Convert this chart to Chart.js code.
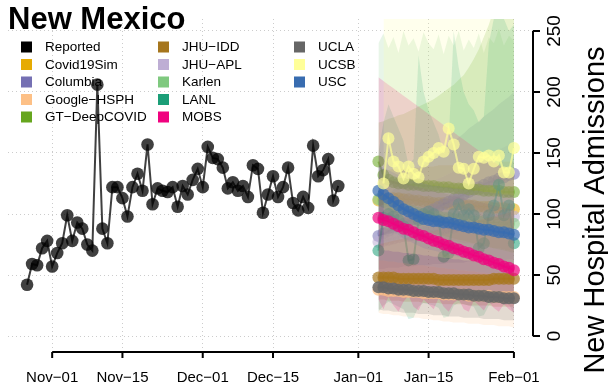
<!DOCTYPE html>
<html>
<head>
<meta charset="utf-8">
<script src="https://cdn.jsdelivr.net/npm/chart.js@4.4.0/dist/chart.umd.min.js"></script>
<style>
  html, body { margin: 0; padding: 0; background: #fff; }
</style>
</head>
<body>
<canvas id="myChart" width="608" height="388"></canvas>
<script>
// x values are days counted from Nov 1
const xTickDays = [0, 14, 30, 44, 61, 75, 92];
const xTickLabels = ['Nov\u221201', 'Nov\u221215', 'Dec\u221201', 'Dec\u221215', 'Jan\u221201', 'Jan\u221215', 'Feb\u221201'];
const yTicks = [0, 50, 100, 150, 200, 250];

const reportedStart = -5; // Oct 27
const reported = [42, 59, 58, 72, 78, 57, 68, 76, 99, 78, 93, 88, 75, 70, 206, 88, 76, 122, 122, 113,
  98, 122, 133, 119, 157, 108, 121, 119, 118, 122, 106, 123, 116, 128, 137, 122, 155, 146, 145, 138,
  121, 126, 119, 123, 114, 140, 137, 101, 116, 131, 114, 122, 138, 109, 103, 114, 105, 156, 131, 136,
  145, 111, 123];

const forecastStart = 65; // Jan 5
const ucsbStart = 66;

const modelNames = ['Covid19Sim', 'Columbia', 'Google\u2212HSPH', 'GT\u2212DeepCOVID', 'JHU\u2212IDD', 'JHU\u2212APL',
  'Karlen', 'LANL', 'MOBS', 'UCLA', 'UCSB', 'USC'];
const modelColors = ['#e6ab02', '#7570b3', '#fdc086', '#66a61e', '#a6761d', '#beaed4',
  '#7fc97f', '#1b9e77', '#f0027f', '#666666', '#ffff99', '#386cb0'];

const covidSim = [111, 112, 112, 113, 113, 112, 112, 111, 111, 110, 110, 109, 109, 109, 108, 108, 108, 107, 107, 107, 106, 106, 106, 105, 105, 105, 104, 104];
const covidSimLo = [88, 87, 86, 86, 85, 84, 84, 83, 82, 82, 81, 80, 80, 79, 78, 78, 77, 76, 76, 75, 74, 74, 73, 72, 72, 71, 70, 70];
const covidSimHi = [135, 136, 136, 137, 137, 137, 138, 138, 138, 139, 139, 139, 140, 140, 140, 140, 141, 141, 141, 141, 142, 142, 142, 142, 143, 143, 143, 143];

const columbia = [82, 84, 86, 88, 90, 92, 94, 96, 98, 100, 102, 104, 106, 108, 110, 112, 114, 116, 118, 120, 122, 124, 126, 127, 129, 130, 132, 133];
const columbiaLo = [55, 55, 56, 56, 56, 57, 57, 57, 58, 58, 58, 59, 59, 59, 60, 60, 60, 60, 61, 61, 61, 61, 62, 62, 62, 62, 63, 63];
const columbiaHi = [110, 113, 116, 120, 123, 126, 130, 133, 136, 140, 143, 146, 150, 153, 156, 160, 163, 166, 170, 173, 176, 180, 183, 186, 190, 193, 196, 200];

const google = [38, 38, 37, 37, 37, 36, 36, 36, 36, 35, 35, 35, 35, 34, 34, 34, 34, 34, 33, 33, 33, 33, 33, 32, 32, 32, 32, 32];
const googleLo = [19, 18, 18, 17, 17, 16, 16, 15, 15, 14, 14, 13, 13, 12, 12, 11, 11, 11, 10, 10, 10, 9, 9, 9, 8, 8, 8, 7];
const googleHi = [62, 62, 61, 61, 60, 60, 59, 59, 58, 58, 57, 57, 56, 56, 55, 55, 54, 54, 53, 53, 52, 52, 51, 51, 50, 50, 49, 49];

const gt = [143, 132, 128, 126, 125, 125, 124, 124, 124, 123, 123, 123, 122, 122, 122, 121, 121, 121, 120, 120, 120, 119, 119, 119, 119, 118, 118, 118];
const gtLo = [95, 94, 93, 92, 91, 90, 89, 88, 87, 86, 85, 84, 83, 82, 81, 80, 79, 78, 77, 76, 75, 74, 73, 72, 71, 70, 69, 68];
const gtHi = [175, 176, 178, 179, 181, 182, 184, 186, 188, 190, 192, 194, 197, 200, 203, 206, 210, 214, 220, 227, 235, 245, 255, 268, 280, 295, 310, 325];

const jhuIdd = [48, 48, 48, 48, 47, 47, 47, 47, 47, 47, 47, 47, 46, 46, 46, 46, 46, 46, 46, 46, 46, 46, 46, 47, 47, 47, 47, 47];
const jhuIddLo = [30, 30, 29, 29, 29, 28, 28, 28, 28, 27, 27, 27, 27, 26, 26, 26, 26, 26, 25, 25, 25, 25, 25, 24, 24, 24, 24, 24];
const jhuIddHi = [75, 76, 77, 78, 79, 80, 81, 82, 83, 84, 85, 86, 87, 88, 89, 90, 91, 92, 93, 94, 95, 96, 97, 98, 99, 100, 101, 102];

const jhuApl = [77, 78, 79, 80, 81, 82, 82, 83, 84, 85, 86, 86, 87, 88, 89, 89, 90, 91, 92, 92, 93, 94, 95, 95, 96, 97, 98, 98];
const jhuAplLo = [50, 50, 50, 49, 49, 49, 48, 48, 48, 47, 47, 47, 46, 46, 46, 45, 45, 45, 44, 44, 44, 43, 43, 43, 42, 42, 42, 41];
const jhuAplHi = [105, 107, 109, 111, 113, 115, 117, 119, 121, 123, 125, 127, 129, 131, 133, 135, 137, 139, 141, 143, 145, 147, 149, 151, 153, 155, 157, 159];

const karlen = [112, 110, 108, 106, 105, 104, 103, 102, 101, 100, 99, 98, 98, 97, 97, 96, 96, 95, 95, 94, 94, 94, 93, 93, 93, 92, 92, 92];
const karlenLo = [45, 44, 43, 42, 42, 41, 40, 40, 39, 38, 38, 37, 37, 36, 36, 35, 35, 34, 34, 33, 33, 33, 32, 32, 31, 31, 31, 30];
const karlenHi = [240, 248, 236, 245, 232, 250, 238, 244, 233, 249, 240, 235, 247, 231, 246, 238, 250, 234, 243, 236, 248, 232, 245, 240, 252, 238, 246, 242];

const lanl = [70, 97, 100, 98, 95, 90, 62, 63, 95, 100, 102, 100, 95, 65, 68, 100, 108, 99, 104, 99, 72, 76, 99, 107, 124, 99, 107, 76];
const lanlLo = [20, 25, 28, 26, 24, 22, 14, 15, 24, 27, 26, 25, 23, 15, 16, 25, 27, 26, 25, 24, 16, 17, 25, 27, 28, 25, 26, 18];
const lanlHi = [150, 175, 190, 180, 170, 160, 140, 145, 230, 200, 185, 175, 165, 150, 160, 250, 220, 200, 190, 185, 175, 180, 240, 260, 270, 260, 250, 255];

const mobs = [97, 95, 94, 92, 90, 88, 87, 85, 83, 82, 80, 78, 77, 75, 74, 72, 71, 69, 68, 66, 65, 63, 62, 60, 59, 57, 56, 54];
const mobsLo = [30, 22, 32, 25, 20, 28, 33, 24, 21, 30, 26, 22, 31, 24, 20, 27, 30, 22, 20, 29, 25, 21, 28, 23, 20, 26, 22, 19];
const mobsHi = [212, 209, 206, 203, 200, 197, 194, 191, 188, 185, 182, 179, 176, 173, 170, 167, 164, 161, 158, 155, 152, 149, 146, 143, 140, 137, 134, 131];

const ucla = [40, 40, 39, 39, 38, 38, 38, 37, 37, 37, 36, 36, 36, 35, 35, 35, 34, 34, 34, 33, 33, 33, 32, 32, 32, 31, 31, 31];
const uclaLo = [22, 21, 21, 20, 20, 19, 19, 19, 18, 18, 18, 17, 17, 17, 16, 16, 16, 15, 15, 15, 15, 14, 14, 14, 14, 13, 13, 13];
const uclaHi = [130, 129, 128, 127, 126, 125, 124, 123, 122, 121, 120, 119, 118, 117, 116, 115, 114, 113, 112, 111, 110, 109, 108, 107, 106, 105, 104, 103];

// UCSB starts a day later
const ucsb = [125, 162, 143, 139, 129, 139, 133, 130, 143, 147, 150, 154, 151, 170, 157, 138, 137, 125, 137, 147, 146, 148, 143, 148, 134, 134, 154];
const ucsbLo = [70, 70, 69, 69, 68, 68, 67, 67, 66, 66, 65, 65, 64, 64, 63, 63, 62, 62, 61, 61, 60, 60, 59, 59, 58, 58, 57];
const ucsbHi = [300, 300, 300, 300, 300, 300, 300, 300, 300, 300, 300, 300, 300, 300, 300, 300, 300, 300, 300, 300, 300, 300, 300, 300, 300, 300, 300];

const usc = [119, 116, 113, 110, 107, 104, 102, 100, 98, 96, 95, 94, 94, 93, 93, 92, 91, 90, 89, 89, 88, 87, 87, 86, 85, 85, 84, 83];
const uscLo = [95, 92, 89, 86, 83, 80, 78, 76, 74, 72, 71, 70, 69, 68, 67, 66, 65, 64, 63, 62, 61, 60, 59, 58, 57, 56, 55, 54];
const uscHi = [140, 138, 136, 134, 132, 130, 128, 127, 126, 125, 124, 123, 123, 122, 122, 121, 121, 120, 120, 119, 119, 118, 118, 117, 117, 116, 116, 115];

const FONT = "'Liberation Sans', Arial, Helvetica, sans-serif";

const rgba = (hex, a) => {
  const n = parseInt(hex.slice(1), 16);
  return `rgba(${n >> 16}, ${(n >> 8) & 255}, ${n & 255}, ${a})`;
};
const toPoints = (vals, start) => vals.map((v, i) => ({ x: start + i, y: v }));

const models = {
  'Covid19Sim': { mid: covidSim, lo: covidSimLo, hi: covidSimHi, start: forecastStart },
  'Columbia': { mid: columbia, lo: columbiaLo, hi: columbiaHi, start: forecastStart },
  'Google\u2212HSPH': { mid: google, lo: googleLo, hi: googleHi, start: forecastStart },
  'GT\u2212DeepCOVID': { mid: gt, lo: gtLo, hi: gtHi, start: forecastStart },
  'JHU\u2212IDD': { mid: jhuIdd, lo: jhuIddLo, hi: jhuIddHi, start: forecastStart },
  'JHU\u2212APL': { mid: jhuApl, lo: jhuAplLo, hi: jhuAplHi, start: forecastStart },
  'Karlen': { mid: karlen, lo: karlenLo, hi: karlenHi, start: forecastStart },
  'LANL': { mid: lanl, lo: lanlLo, hi: lanlHi, start: forecastStart },
  'MOBS': { mid: mobs, lo: mobsLo, hi: mobsHi, start: forecastStart },
  'UCLA': { mid: ucla, lo: uclaLo, hi: uclaHi, start: forecastStart },
  'UCSB': { mid: ucsb, lo: ucsbLo, hi: ucsbHi, start: ucsbStart },
  'USC': { mid: usc, lo: uscLo, hi: uscHi, start: forecastStart },
};
modelNames.forEach((n, i) => { models[n].color = modelColors[i]; });

// draw sequence, first pushed ends up at the bottom
const seq = [];
function addBand(name, alpha = 0.18) {
  const m = models[name];
  const loIdx = seq.length;
  seq.push({ data: toPoints(m.lo, m.start), borderWidth: 0, pointRadius: 0, fill: false });
  seq.push({ data: toPoints(m.hi, m.start), borderWidth: 0, pointRadius: 0, fill: loIdx,
    backgroundColor: rgba(m.color, alpha) });
}
function addLine(name, alpha = 0.7) {
  const m = models[name];
  seq.push({ data: toPoints(m.mid, m.start), borderColor: rgba(m.color, alpha), borderWidth: 2,
    pointRadius: 6, pointBorderWidth: 0, pointBackgroundColor: rgba(m.color, alpha), fill: false });
}

seq.push({ data: toPoints(reported, reportedStart), borderColor: 'rgba(0,0,0,0.75)', borderWidth: 2,
  pointRadius: 6.3, pointBorderWidth: 0, pointBackgroundColor: 'rgba(0,0,0,0.75)', fill: false });
['Covid19Sim', 'Columbia', 'JHU\u2212APL', 'Karlen', 'GT\u2212DeepCOVID', 'LANL'].forEach(n => { addBand(n); addLine(n, 0.55); });
['Google\u2212HSPH', 'JHU\u2212IDD', 'UCLA', 'USC', 'MOBS', 'UCSB'].forEach(n => addBand(n));
addLine('Google\u2212HSPH');
addLine('JHU\u2212IDD');
addLine('UCLA', 0.85);
addLine('MOBS');
addLine('USC');
addLine('UCSB');
seq.forEach((d, i) => { d.order = seq.length - i; d.tension = 0; });

const legendItems = ['Reported'].concat(modelNames);
const legendColors = ['#000000'].concat(modelColors);

const rStyle = {
  id: 'rStyle',
  beforeDatasetsDraw(chart) {
    const ctx = chart.ctx;
    ctx.save();
    ctx.font = `13.5px ${FONT}`;
    ctx.textBaseline = 'middle';
    legendItems.forEach((name, i) => {
      const col = Math.floor(i / 5), row = i % 5;
      const x = [21, 158, 294][col];
      const y = 47 + row * 17.5;
      ctx.fillStyle = legendColors[i];
      ctx.fillRect(x, y - 5.5, 11, 11);
      ctx.fillStyle = '#000';
      ctx.fillText(name, x + 24, y + 0.5);
    });
    ctx.restore();
  },
  afterDraw(chart) {
    const ctx = chart.ctx;
    const xs = chart.scales.x, ys = chart.scales.y;
    ctx.save();
    ctx.fillStyle = '#000';
    ctx.font = `bold 31px ${FONT}`;
    ctx.textBaseline = 'alphabetic';
    ctx.fillText('New Mexico', 8, 29);

    ctx.strokeStyle = '#000';
    ctx.lineWidth = 2;
    // x axis, R style: line only between first and last tick
    const ay = 352;
    ctx.beginPath();
    ctx.moveTo(xs.getPixelForValue(xTickDays[0]), ay);
    ctx.lineTo(xs.getPixelForValue(xTickDays[xTickDays.length - 1]), ay);
    xTickDays.forEach(d => {
      const px = xs.getPixelForValue(d);
      ctx.moveTo(px, ay);
      ctx.lineTo(px, ay + 6);
    });
    ctx.stroke();
    ctx.font = `15px ${FONT}`;
    ctx.textAlign = 'center';
    ctx.textBaseline = 'middle';
    xTickDays.forEach((d, i) => {
      ctx.fillText(xTickLabels[i], xs.getPixelForValue(d), 378);
    });

    // y axis on the right
    const ax = 533;
    ctx.beginPath();
    ctx.moveTo(ax, ys.getPixelForValue(yTicks[0]));
    ctx.lineTo(ax, ys.getPixelForValue(yTicks[yTicks.length - 1]));
    yTicks.forEach(v => {
      const py = ys.getPixelForValue(v);
      ctx.moveTo(ax, py);
      ctx.lineTo(ax + 7, py);
    });
    ctx.stroke();

    ctx.font = `19px ${FONT}`;
    yTicks.forEach(v => {
      ctx.save();
      ctx.translate(555, ys.getPixelForValue(v));
      ctx.rotate(-Math.PI / 2);
      ctx.fillText(String(v), 0, 0);
      ctx.restore();
    });
    ctx.font = `29px ${FONT}`;
    ctx.translate(596, 210);
    ctx.rotate(-Math.PI / 2);
    ctx.fillText('New Hospital Admissions', 0, 0);
    ctx.restore();
  }
};

const gridColor = '#cccccc';
new Chart(document.getElementById('myChart'), {
  type: 'line',
  data: { datasets: seq },
  plugins: [rStyle],
  options: {
    responsive: false,
    animation: false,
    devicePixelRatio: 1,
    events: [],
    layout: { padding: { left: 8, right: 75, top: 19, bottom: 40 } },
    plugins: { legend: { display: false }, tooltip: { enabled: false }, title: { display: false } },
    scales: {
      x: {
        type: 'linear', min: -8.8, max: 95.8,
        afterBuildTicks: s => { s.ticks = xTickDays.map(v => ({ value: v })); },
        ticks: { display: false },
        grid: { color: gridColor, lineWidth: 1, drawTicks: false },
        border: { display: false, dash: [1, 3] }
      },
      y: {
        type: 'linear', position: 'right', min: -9.8, max: 259.8,
        afterBuildTicks: s => { s.ticks = yTicks.map(v => ({ value: v })); },
        ticks: { display: false },
        grid: { color: gridColor, lineWidth: 1, drawTicks: false },
        border: { display: false, dash: [1, 3] }
      }
    }
  }
});
</script>
</body>
</html>
